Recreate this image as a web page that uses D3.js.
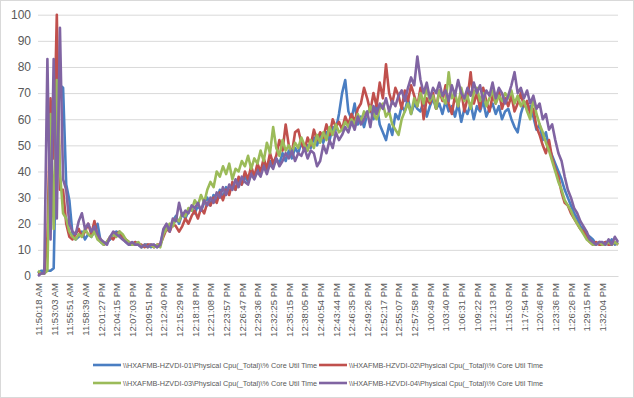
<!DOCTYPE html>
<html><head><meta charset="utf-8">
<script src="https://cdn.jsdelivr.net/npm/d3@7"></script>
<style>
body{margin:0;background:#fff;}
svg{display:block;font-family:"Liberation Sans",Arial,sans-serif;}
</style></head>
<body><svg id="c" width="634" height="398"></svg>
<script>
const timeLabels = ["11:50:18 AM","11:53:03 AM","11:55:51 AM","11:58:39 AM","12:01:27 PM","12:04:15 PM","12:07:03 PM","12:09:51 PM","12:12:40 PM","12:15:29 PM","12:18:18 PM","12:21:08 PM","12:23:57 PM","12:26:47 PM","12:29:36 PM","12:32:25 PM","12:35:15 PM","12:38:05 PM","12:40:54 PM","12:43:44 PM","12:46:35 PM","12:49:26 PM","12:52:17 PM","12:55:07 PM","12:57:58 PM","1:00:49 PM","1:03:40 PM","1:06:31 PM","1:09:22 PM","1:12:13 PM","1:15:03 PM","1:17:54 PM","1:20:46 PM","1:23:36 PM","1:26:26 PM","1:29:15 PM","1:32:04 PM"];
const yTicks = [0,10,20,30,40,50,60,70,80,90,100];
const seriesNames = [
 "\\\\HXAFMB-HZVDI-01\\Physical Cpu(_Total)\\% Core Util Time",
 "\\\\HXAFMB-HZVDI-02\\Physical Cpu(_Total)\\% Core Util Time",
 "\\\\HXAFMB-HZVDI-03\\Physical Cpu(_Total)\\% Core Util Time",
 "\\\\HXAFMB-HZVDI-04\\Physical Cpu(_Total)\\% Core Util Time"];
const vdi01 = [1,2,2,2,2,3,60,73,72,35,
 29,16,14,15,17,14,16,15,17,20,
 13,12,13,14,16,17,16,15,13,12,
 12,13,12,11,12,12,11,12,11,12,
 17,19,18,21,23,20,24,22,25,26,
 24,27,25,28,30,27,31,29,33,30,
 34,32,35,33,37,35,38,36,40,38,
 41,39,43,40,44,42,45,43,47,44,
 48,45,49,47,51,48,50,49,53,50,
 54,51,55,52,57,56,62,70,75,63,
 60,66,58,61,57,62,64,60,66,58,
 55,52,58,54,62,60,65,63,68,62,
 66,64,63,67,61,65,68,64,66,62,
 67,63,65,61,66,59,64,62,66,60,
 65,63,67,61,64,66,62,65,60,63,
 64,60,57,55,62,66,64,65,61,56,
 58,52,55,49,46,43,40,37,33,30,
 27,24,22,19,18,16,15,14,12,13,
 12,13,12,14,12,13];
const vdi02 = [1,1,1,15,68,45,100,33,33,20,
 15,14,16,18,15,17,20,16,21,15,
 14,12,13,15,14,16,17,15,14,13,
 12,13,12,12,11,12,12,11,12,12,
 15,18,17,20,19,17,19,22,20,23,
 25,22,26,24,28,27,30,28,32,29,
 33,31,36,33,38,35,40,37,42,38,
 43,40,45,41,47,43,46,52,48,58,
 50,47,55,56,51,48,53,50,56,52,
 55,53,58,54,60,57,59,56,61,58,
 62,59,64,66,72,68,63,70,65,74,
 68,81,70,66,72,69,64,71,67,73,
 69,65,72,60,68,66,70,64,71,67,
 73,66,62,69,65,71,63,68,78,66,
 70,64,72,67,63,69,66,71,64,68,
 65,69,63,66,70,65,67,62,64,57,
 54,50,47,52,45,41,38,32,28,27,
 24,22,20,18,17,15,13,12,13,12,
 12,13,12,12,13,12];
const vdi03 = [2,1,1,2,62,18,75,40,24,22,
 17,15,14,16,15,18,16,15,17,14,
 13,12,13,15,16,15,17,16,14,13,
 12,12,13,11,12,11,12,11,12,11,
 16,18,20,19,22,21,24,23,26,25,
 29,27,31,28,33,36,34,40,38,42,
 39,43,37,41,40,44,42,46,41,45,
 43,48,44,51,47,57,49,46,52,48,
 50,47,51,49,53,50,48,52,49,54,
 51,55,52,57,54,58,55,56,59,57,
 60,58,62,59,63,61,65,62,60,64,
 66,61,63,58,56,54,60,63,66,62,
 68,65,70,66,72,67,69,64,71,68,
 66,78,68,70,65,72,67,69,64,70,
 72,67,70,65,68,71,66,69,67,70,
 68,71,66,69,65,67,63,60,68,62,
 58,55,51,48,44,40,36,33,29,27,
 25,22,20,18,16,14,13,12,12,13,
 12,12,13,12,13,12];
const vdi04 = [0,1,1,83,14,83,22,95,37,33,
 20,17,16,21,24,18,20,17,19,16,
 14,13,12,15,17,16,15,14,13,12,
 13,12,12,11,12,11,12,12,11,12,
 18,20,17,22,21,28,23,25,24,27,
 26,28,25,29,27,30,28,32,30,34,
 31,35,33,37,34,38,36,35,39,37,
 40,38,42,39,43,41,45,42,44,47,
 45,48,44,47,46,49,45,48,47,42,
 44,50,47,52,49,55,52,54,57,55,
 59,56,61,58,60,63,57,65,62,66,
 64,68,63,67,65,69,71,67,72,76,
 73,84,75,70,74,68,72,70,74,69,
 71,67,73,69,75,70,68,72,69,74,
 70,73,67,71,69,74,68,72,70,66,
 69,73,78,70,72,68,71,66,69,64,
 66,60,62,56,58,52,47,44,38,33,
 30,26,24,21,19,17,14,13,12,13,
 13,12,14,12,15,13];
const seriesData = [vdi01, vdi02, vdi03, vdi04];
const colors = ["#4A7EC2","#C0504D","#9BBB59","#8064A2"];
const pointsPerLabel = 5;

const svg = d3.select("#c");
svg.append("rect").attr("x",0.5).attr("y",0.5).attr("width",633).attr("height",397)
  .attr("fill","#fff").attr("stroke","#d9d9d9");

const n = vdi01.length;
const x = d3.scaleLinear().domain([0, n-1]).range([38, 618]);
const y = d3.scaleLinear().domain([0, 100]).range([276, 14.7]);

// grid + y axis
const ya = svg.append("g").attr("transform","translate(38,0)")
  .call(d3.axisLeft(y).tickValues(yTicks).tickSize(-580).tickPadding(7));
ya.select(".domain").remove();
ya.selectAll("line").attr("stroke","#d9d9d9");
ya.selectAll("text").attr("fill","#595959").style("font-size","12px");

// x axis
const xa = svg.append("g").attr("transform","translate(0,276)")
  .call(d3.axisBottom(x).tickValues(timeLabels.map((d,i)=>i*pointsPerLabel))
    .tickFormat(i => timeLabels[i/pointsPerLabel]).tickSize(0));
xa.select(".domain").attr("stroke","#d9d9d9");
xa.selectAll("text").attr("fill","#595959").style("font-size","9.5px")
  .attr("text-anchor","end").attr("transform","rotate(-90)")
  .attr("x",-7).attr("y",0).attr("dy","0.35em");

// lines
const line = d3.line().x((d,i)=>x(i)).y(d=>y(d));
seriesData.forEach((s,k)=>{
  svg.append("path").datum(s).attr("d",line).attr("fill","none")
    .attr("stroke",colors[k]).attr("stroke-width",2.6).attr("stroke-linejoin","round");
});

// legend
const legPos = [[93,365],[319,365],[93,383],[319,383]];
seriesNames.forEach((name,k)=>{
  const [lx,ly] = legPos[k];
  svg.append("line").attr("x1",lx).attr("x2",lx+28).attr("y1",ly).attr("y2",ly)
    .attr("stroke",colors[k]).attr("stroke-width",2.6);
  svg.append("text").attr("x",lx+30).attr("y",ly).attr("dy","0.35em")
    .attr("fill","#595959").style("font-size","7.5px")
    .attr("textLength",194).attr("lengthAdjust","spacingAndGlyphs").text(name);
});
</script></body></html>
